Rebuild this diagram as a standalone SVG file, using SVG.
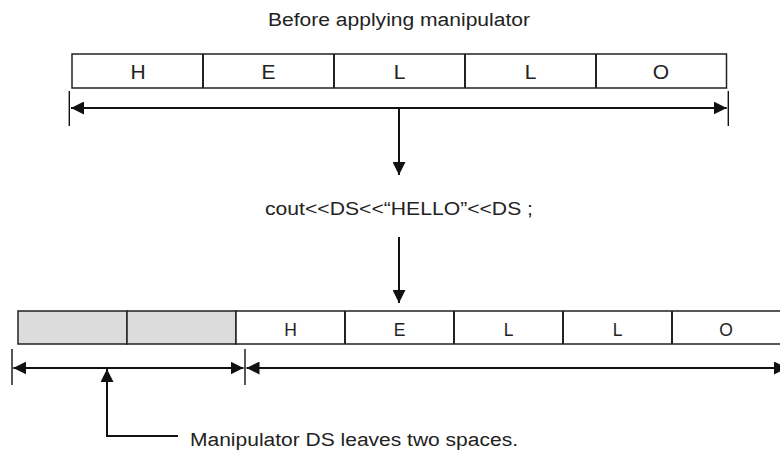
<svg xmlns="http://www.w3.org/2000/svg" width="780" height="453" viewBox="0 0 780 453">
<defs>
<style>
text{font-family:"Liberation Sans",Arial,sans-serif;fill:#222;}
.lbl{font-size:18px;}
.big{font-size:21px;text-anchor:middle;}
.sm{font-size:17.5px;text-anchor:middle;}
.cell{fill:#fff;stroke:#222;stroke-width:1.5;}
.grey{fill:#dcdcdc;stroke:#222;stroke-width:1.5;}
.div{stroke:#222;stroke-width:2;}
.ln{stroke:#111;stroke-width:2;fill:none;}
.tick{stroke:#111;stroke-width:1.4;}
</style>
<marker id="ah" markerUnits="userSpaceOnUse" markerWidth="13" markerHeight="13" viewBox="0 0 12 12" refX="12" refY="6" orient="auto-start-reverse">
<path d="M0,0 L12,6 L0,12 Z" fill="#111"/>
</marker>
</defs>
<rect width="780" height="453" fill="#fff"/>
<text class="lbl" x="268" y="26" textLength="262" lengthAdjust="spacingAndGlyphs">Before applying manipulator</text>
<g id="top-row">
<rect class="cell" x="72" y="54" width="654.5" height="34"/>
<line class="div" x1="203" y1="54" x2="203" y2="88"/>
<line class="div" x1="334" y1="54" x2="334" y2="88"/>
<line class="div" x1="465" y1="54" x2="465" y2="88"/>
<line class="div" x1="596" y1="54" x2="596" y2="88"/>
<text class="big" x="138" y="79">H</text>
<text class="big" x="268.5" y="79">E</text>
<text class="big" x="399.5" y="79">L</text>
<text class="big" x="530.5" y="79">L</text>
<text class="big" x="661" y="79">O</text>
</g>
<g id="statement">
<text class="lbl" x="265" y="215" textLength="268" lengthAdjust="spacingAndGlyphs">cout&lt;&lt;DS&lt;&lt;“HELLO”&lt;&lt;DS ;</text>
</g>
<g id="bottom-row">
<rect class="grey" x="18" y="311" width="109" height="33"/>
<rect class="grey" x="127" y="311" width="109" height="33"/>
<rect class="cell" x="236" y="311" width="545" height="33"/>
<line class="div" x1="345" y1="311" x2="345" y2="344"/>
<line class="div" x1="454" y1="311" x2="454" y2="344"/>
<line class="div" x1="563" y1="311" x2="563" y2="344"/>
<line class="div" x1="672" y1="311" x2="672" y2="344"/>
<text class="sm" x="290.5" y="336">H</text>
<text class="sm" x="399.5" y="336">E</text>
<text class="sm" x="508.5" y="336">L</text>
<text class="sm" x="617.5" y="336">L</text>
<text class="sm" x="726" y="336">O</text>
</g>
<g id="note">
<text class="lbl" x="190" y="446" textLength="328" lengthAdjust="spacingAndGlyphs">Manipulator DS leaves two spaces.</text>
</g>
<g id="connectors">
<line class="tick" x1="69.3" y1="91" x2="69.3" y2="126"/>
<line class="tick" x1="728.3" y1="91" x2="728.3" y2="126"/>
<line class="ln" x1="71" y1="108" x2="726.7" y2="108" marker-start="url(#ah)" marker-end="url(#ah)"/>
<line class="ln" x1="399" y1="108" x2="399" y2="175" marker-end="url(#ah)"/>
<line class="ln" x1="399" y1="237" x2="399" y2="303" marker-end="url(#ah)"/>
<line class="tick" x1="12" y1="349" x2="12" y2="385"/>
<line class="tick" x1="245" y1="349" x2="245" y2="385"/>
<line class="ln" x1="13.3" y1="368" x2="243.5" y2="368" marker-start="url(#ah)" marker-end="url(#ah)"/>
<line class="ln" x1="246.5" y1="368" x2="787" y2="368" marker-start="url(#ah)" marker-end="url(#ah)"/>
<polyline class="ln" points="178,436 107,436 107,369" marker-end="url(#ah)"/>
</g>
</svg>
